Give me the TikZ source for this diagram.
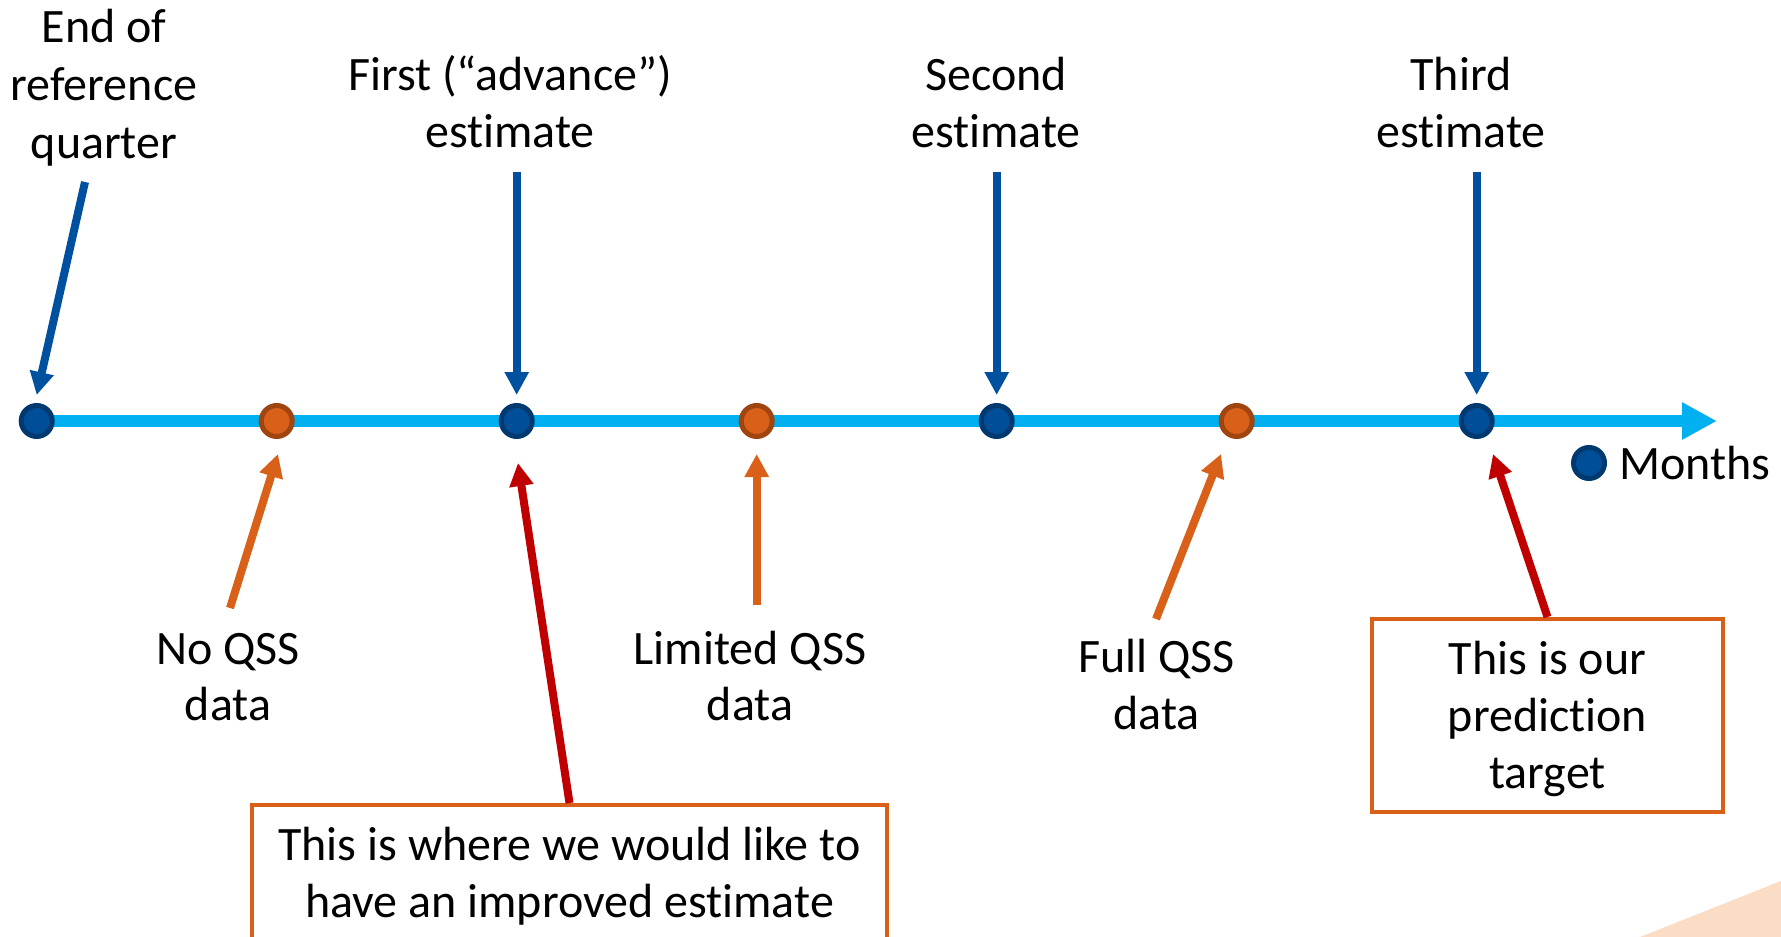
\documentclass[tikz,border=0pt]{standalone}
\usepackage{fontspec}
\setmainfont{Carlito}[Ligatures=NoCommon]
\usetikzlibrary{arrows.meta}

\definecolor{lineblue}{RGB}{0,176,240}
\definecolor{arrowblue}{RGB}{0,80,160}
\definecolor{dotblue}{RGB}{0,78,152}
\definecolor{dotblueedge}{RGB}{0,56,112}
\definecolor{dotorange}{RGB}{217,96,24}
\definecolor{dotorangeedge}{RGB}{160,68,16}
\definecolor{boxorange}{RGB}{217,96,24}
\definecolor{arrowred}{RGB}{192,0,0}
\definecolor{wedge}{RGB}{251,220,197}

% centred stack of lines whose baseline is the first line
\newcommand{\labellines}[1]{\begin{tabular}[t]{@{}c@{}}#1\end{tabular}}
% same stack, lowered inside its box without changing the box size
\newcommand{\lowlines}[2]{\raisebox{-#1}[\height][\depth]{\labellines{#2}}}

\begin{document}
\begin{tikzpicture}[x=1pt,y=1pt,
  monthdot/.style={circle, inner sep=0pt, minimum size=31pt, line width=5pt,
                   draw=dotblueedge, fill=dotblue},
  datadot/.style={circle, inner sep=0pt, minimum size=31pt, line width=5pt,
                  draw=dotorangeedge, fill=dotorange},
  lbl/.style={inner sep=0pt, anchor=base, font=\fontsize{48pt}{#1}\selectfont},
  tbox/.style={draw=boxorange, line width=4pt, fill=white, inner sep=0pt,
               font=\fontsize{48pt}{#1}\selectfont},
  bluearrow/.style={draw=arrowblue, line width=8pt, -{Triangle[length=23pt,width=23pt]}},
  orangearrow/.style={draw=dotorange, line width=8pt, -{Triangle[length=23pt,width=23pt]}},
  redarrow/.style={draw=arrowred, line width=8pt, -{Triangle[length=23pt,width=23pt]}},
]
\useasboundingbox (0,0) rectangle (1781,-937);

% corner decoration
\fill[wedge] (1640,-937) -- (1781,-881) -- (1781,-937) -- cycle;

% time axis
\coordinate (axisend) at (1717,-421);
\draw[lineblue, line width=12pt, -{Triangle[length=35pt,width=35pt]}]
  (36.7,-421) -- (axisend);

% month markers and data releases
\node[monthdot] (d0) at (36.7,-421) {};
\node[datadot]  (d1) at (276.7,-421) {};
\node[monthdot] (d2) at (516.7,-421) {};
\node[datadot]  (d3) at (756.7,-421) {};
\node[monthdot] (d4) at (996.7,-421) {};
\node[datadot]  (d5) at (1236.7,-421) {};
\node[monthdot] (d6) at (1476.7,-421) {};

% legend
\node[monthdot] (legdot) at (1589,-463) {};
\node[inner sep=0pt, anchor=base west, font=\fontsize{48pt}{57pt}\selectfont]
  (legtext) at (1619,-479) {Months};

% upper labels
\node[lbl=58pt] (endq) at (104,-42) {\labellines{End of\\reference\\quarter}};
\node[lbl=57pt] (first) at (510,-90) {\labellines{First (“advance”)\\estimate}};
\node[lbl=57pt] (second) at (996,-90) {\labellines{Second\\estimate}};
\node[lbl=57pt] (third) at (1461,-90) {\labellines{Third\\estimate}};

% lower labels
\node[lbl=56pt] (noqss) at (228,-664) {\labellines{No QSS\\data}};
\node[lbl=56pt] (limqss) at (750,-664) {\labellines{Limited QSS\\data}};
\node[lbl=57pt] (fullqss) at (1156.5,-672) {\labellines{Full QSS\\data}};

% callout boxes
\node[tbox=57pt, minimum width=635pt, minimum height=140pt] (improve) at (569.5,-875)
  {\lowlines{3pt}{This is where we would like to\\have an improved estimate}};
\node[tbox=57pt, minimum width=351pt, minimum height=193pt] (target) at (1547.5,-715.5)
  {\lowlines{5pt}{This is our\\prediction\\target}};

% arrow tails
\coordinate (t0) at (85,-182);
\coordinate (t2) at (516.7,-172);
\coordinate (t4) at (996.7,-172);
\coordinate (t6) at (1476.7,-172);
\coordinate (t1) at (230,-608);
\coordinate (t3) at (756.7,-605);
\coordinate (t5) at (1156,-619);

% estimate arrows
\draw[bluearrow] (t0) -- ([yshift=8pt]d0.north);
\draw[bluearrow] (t2) -- ([yshift=8pt]d2.north);
\draw[bluearrow] (t4) -- ([yshift=8pt]d4.north);
\draw[bluearrow] (t6) -- ([yshift=8pt]d6.north);

% data arrows
\draw[orangearrow] (t1) -- ([xshift=1.3pt,yshift=-15pt]d1.south);
\draw[orangearrow] (t3) -- ([yshift=-15pt]d3.south);
\draw[orangearrow] (t5) -- ([xshift=-15.7pt,yshift=-15pt]d5.south);

% callout arrows
\draw[redarrow] (improve.north) -- ([xshift=1.3pt,yshift=-24pt]d2.south);
\draw[redarrow] (target.north) -- ([xshift=16.3pt,yshift=-15pt]d6.south);
\end{tikzpicture}
\end{document}
